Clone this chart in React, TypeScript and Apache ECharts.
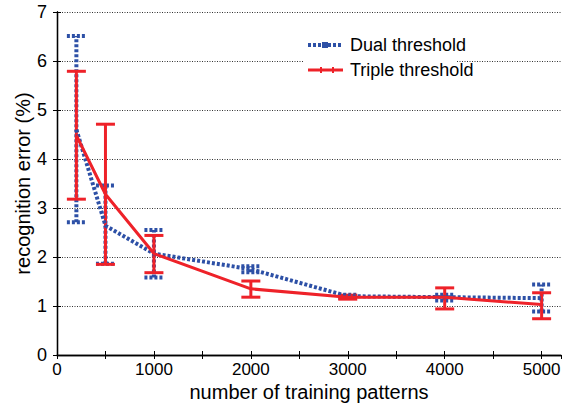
import React, { useEffect, useRef } from "react";
import * as echarts from "echarts";

const xValues = [200, 500, 1000, 2000, 3000, 4000, 5000];
const dualMean = [4.6, 2.64, 2.07, 1.75, 1.2, 1.18, 1.16];
const dualLow = [2.71, 1.86, 1.58, 1.69, 1.17, 1.11, 0.89];
const dualHigh = [6.51, 3.46, 2.55, 1.81, 1.23, 1.23, 1.44];
const tripleMean = [4.48, 3.28, 2.07, 1.35, 1.18, 1.18, 1.03];
const tripleLow = [3.18, 1.85, 1.68, 1.18, 1.14, 0.94, 0.74];
const tripleHigh = [5.79, 4.71, 2.44, 1.51, 1.22, 1.37, 1.27];
const seriesNames = ["Dual threshold", "Triple threshold"];
const xName = "number of training patterns";
const yName = "recognition error (%)";

const BLUE = "#2d50a6";
const RED = "#ee2229";
const FONT = "Liberation Sans";

function errorBarSeries(low: number[], high: number[], color: string, dash: number[] | null, width: number) {
  return {
    type: "custom",
    data: xValues.map((x, i) => [x, low[i], high[i]]),
    encode: { x: 0, y: [1, 2] },
    z: 3,
    renderItem: (_params: any, api: any) => {
      const x = api.value(0);
      const lo = api.coord([x, api.value(1)]);
      const hi = api.coord([x, api.value(2)]);
      const hw = 9.5;
      const style: any = { stroke: color, lineWidth: width, fill: "none" };
      if (dash) style.lineDash = dash;
      return {
        type: "group",
        children: [
          { type: "line", shape: { x1: lo[0], y1: lo[1], x2: hi[0], y2: hi[1] }, style },
          { type: "line", shape: { x1: lo[0] - hw, y1: lo[1], x2: lo[0] + hw, y2: lo[1] }, style },
          { type: "line", shape: { x1: hi[0] - hw, y1: hi[1], x2: hi[0] + hw, y2: hi[1] }, style },
        ],
      };
    },
  };
}

export default function App() {
  const ref = useRef<HTMLDivElement>(null);
  useEffect(() => {
    const chart = echarts.init(ref.current!, null, { renderer: "svg" });
    const axisCommon = {
      type: "value",
      axisLine: { show: true, lineStyle: { color: "#000", width: 1.3 } },
      axisTick: { show: true, inside: true, length: 4, lineStyle: { color: "#000", width: 1 } },
    };
    chart.setOption({
      animation: false,
      textStyle: { fontFamily: FONT },
      grid: { left: 57, right: 2, top: 12, bottom: 48, containLabel: false, outerBoundsMode: "none" },
      xAxis: [
        {
          ...axisCommon,
          min: 0,
          max: 5200,
          interval: 500,
          position: "bottom",
          axisLabel: {
            color: "#000",
            fontSize: 17,
            fontFamily: FONT,
            margin: 6,
            showMaxLabel: false,
            formatter: (v: number) => (v % 1000 === 0 ? String(v) : ""),
          },
          splitLine: { show: false },
          name: xName,
          nameLocation: "middle",
          nameGap: 27,
          nameMoveOverlap: false,
          nameTextStyle: { color: "#000", fontSize: 20, fontFamily: FONT },
        },
        {
          ...axisCommon,
          min: 0,
          max: 5200,
          interval: 500,
          position: "top",
          axisLabel: { show: false },
          splitLine: { show: false },
        },
      ],
      yAxis: [
        {
          ...axisCommon,
          min: 0,
          max: 7,
          interval: 1,
          position: "left",
          axisLabel: { color: "#000", fontSize: 18, fontFamily: FONT, margin: 10 },
          splitLine: { show: true, lineStyle: { color: "#333", width: 1, type: [1, 1.5] } },
          name: yName,
          nameLocation: "middle",
          nameGap: 24,
          nameMoveOverlap: false,
          nameTextStyle: { color: "#000", fontSize: 20, fontFamily: FONT },
        },
        {
          ...axisCommon,
          min: 0,
          max: 7,
          interval: 1,
          position: "right",
          axisLabel: { show: false },
          splitLine: { show: false },
        },
      ],
      series: [
        errorBarSeries(dualLow, dualHigh, BLUE, [3, 2], 4),
        {
          name: seriesNames[0],
          type: "line",
          data: xValues.map((x, i) => [x, dualMean[i]]),
          symbol: "none",
          z: 3,
          lineStyle: { color: BLUE, width: 4, type: [3, 2] },
        },
        errorBarSeries(tripleLow, tripleHigh, RED, null, 3),
        {
          name: seriesNames[1],
          type: "line",
          data: xValues.map((x, i) => [x, tripleMean[i]]),
          symbol: "none",
          z: 4,
          lineStyle: { color: RED, width: 3 },
        },
      ],
      graphic: [
        { type: "rect", shape: { x: 303, y: 32, width: 153, height: 50 }, style: { fill: "#fff" }, z: 10 },
        { type: "line", shape: { x1: 308, y1: 45, x2: 343, y2: 45 }, style: { stroke: BLUE, lineWidth: 4, lineDash: [3, 2] }, z: 11 },
        { type: "rect", shape: { x: 322, y: 42, width: 6, height: 6 }, style: { fill: BLUE }, z: 11 },
        { type: "line", shape: { x1: 308, y1: 70, x2: 343, y2: 70 }, style: { stroke: RED, lineWidth: 3 }, z: 11 },
        { type: "line", shape: { x1: 321, y1: 67, x2: 321, y2: 73 }, style: { stroke: RED, lineWidth: 2 }, z: 11 },
        { type: "line", shape: { x1: 333, y1: 67, x2: 333, y2: 73 }, style: { stroke: RED, lineWidth: 2 }, z: 11 },
        { type: "text", x: 350, y: 45, style: { text: seriesNames[0], fill: "#000", fontSize: 18, fontFamily: FONT, textVerticalAlign: "middle" }, z: 11 },
        { type: "text", x: 350, y: 70, style: { text: seriesNames[1], fill: "#000", fontSize: 18, fontFamily: FONT, textVerticalAlign: "middle" }, z: 11 },
      ],
    });
    return () => chart.dispose();
  }, []);
  return <div ref={ref} style={{ width: 563, height: 403, position: "absolute", left: 0, top: 0 }} />;
}
